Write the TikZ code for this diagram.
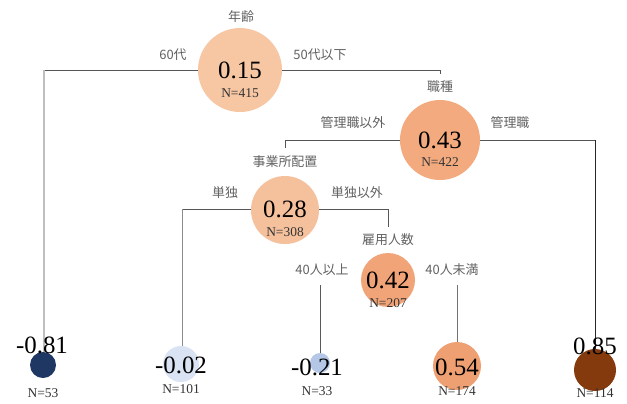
\documentclass[tikz,border=0pt]{standalone}
\usepackage{fontspec}
\setmainfont{Liberation Serif}
\newfontfamily\jpfont{Noto Sans CJK JP}
\definecolor{cRoot}{HTML}{F7C6A3}
\definecolor{cJob}{HTML}{F2AA7E}
\definecolor{cOff}{HTML}{F5C09C}
\definecolor{cEmp}{HTML}{F0A478}
\definecolor{cL54}{HTML}{EFA072}
\definecolor{cL85}{HTML}{843A0C}
\definecolor{cL81}{HTML}{1F3763}
\definecolor{cL02}{HTML}{DAE3F3}
\definecolor{cL21}{HTML}{B4C7E7}
\definecolor{lineDark}{HTML}{555555}
\tikzset{
  ball/.style={circle, inner sep=0pt, draw=none},
  val/.style={inner sep=0pt, font=\fontsize{25}{25}\selectfont},
  cnt/.style={inner sep=0pt, text=black!80, font=\fontsize{13.5}{14}\selectfont},
  jlab/.style={inner sep=0pt, text=black!62, font=\jpfont\fontsize{13}{14}\selectfont},
  conn/.style={draw=lineDark, line width=0.9pt},
}
\begin{document}
\begin{tikzpicture}[x=1bp, y=-1bp]
\useasboundingbox (0,0) rectangle (627,403);
% corner coordinates
\coordinate (c1) at (44,70);
\coordinate (c2) at (440,70);
\coordinate (c2e) at (440,74);
\coordinate (c3) at (285,140);
\coordinate (c3e) at (285,148);
\coordinate (c4) at (595,140);
\coordinate (c5) at (182,209);
\coordinate (c6) at (388,209);
\coordinate (c6e) at (388,227);
\coordinate (s7) at (320,285);
\coordinate (s8) at (457,285);
\coordinate (e81) at (44,354);
\coordinate (e02) at (182,347);
\coordinate (e21) at (320,354);
\coordinate (e54) at (457,343);
\coordinate (e85) at (595,360);
% connectors (drawn first)
\path[conn] (240,70) -- (c1);
\path[conn] (240,70) -- (c2) -- (c2e);
\path[draw=black!25, line width=1.2pt] (c1) -- (e81);
\path[conn] (440,140) -- (c3) -- (c3e);
\path[conn] (440,140) -- (c4);
\path[draw=black!85, line width=1pt] (c4) -- (e85);
\path[conn] (285,209) -- (c5);
\path[draw=black!45, line width=0.9pt] (c5) -- (e02);
\path[conn] (285,209) -- (c6) -- (c6e);
\path[draw=black!65, line width=0.9pt] (s7) -- (e21);
\path[draw=black!55, line width=0.9pt] (s8) -- (e54);
% circles
\node[ball, fill=cRoot, minimum size=84bp] (root) at (240,70) {};
\node[ball, fill=cJob, minimum size=80bp] (job) at (440,140) {};
\node[ball, fill=cOff, minimum size=68bp] (off) at (285,210) {};
\node[ball, fill=cEmp, minimum size=54bp] (emp) at (388,280) {};
\node[ball, fill=cL81, minimum size=26bp] (l81) at (43,365) {};
\node[ball, fill=cL02, minimum size=36bp] (l02) at (181,364) {};
\node[ball, fill=cL21, minimum size=20bp] (l21) at (320,363) {};
\node[ball, fill=cL54, minimum size=48bp] (l54) at (457,366) {};
\node[ball, fill=cL85, minimum size=42bp] (l85) at (595,370) {};
% values
\node[val] (v0) at (240,70) {0.15};
\node[cnt] (n0) at (240,93) {N=415};
\node[val] (v1) at (440,140) {0.43};
\node[cnt] (n1) at (440,162) {N=422};
\node[val] (v2) at (285,209) {0.28};
\node[cnt] (n2) at (285,232) {N=308};
\node[val] (v3) at (388,280) {0.42};
\node[cnt] (n3) at (388,303) {N=207};
\node[val] (v81) at (42,345) {-0.81};
\node[cnt] (n81) at (43,393) {N=53};
\node[val] (v02) at (181,365) {-0.02};
\node[cnt] (n02) at (181,389) {N=101};
\node[val] (v21) at (317,367) {-0.21};
\node[cnt] (n21) at (317,391) {N=33};
\node[val] (v54) at (457,367) {0.54};
\node[cnt] (n54) at (457,391) {N=174};
\node[val] (v85) at (595,346) {0.85};
\node[cnt] (n85) at (595,393) {N=114};
% labels
\node[jlab] (t0) at (241,17) {年齢};
\node[jlab] (b0l) at (173,55) {60代};
\node[jlab] (b0r) at (320,55) {50代以下};
\node[jlab] (t1) at (440,87) {職種};
\node[jlab] (b1l) at (353,123) {管理職以外};
\node[jlab] (b1r) at (510,123) {管理職};
\node[jlab] (t2) at (285,162) {事業所配置};
\node[jlab] (b2l) at (225,193) {単独};
\node[jlab] (b2r) at (357,193) {単独以外};
\node[jlab] (t3) at (388,240) {雇用人数};
\node[jlab] (b3l) at (322,270) {40人以上};
\node[jlab] (b3r) at (452,270) {40人未満};
\end{tikzpicture}
\end{document}
